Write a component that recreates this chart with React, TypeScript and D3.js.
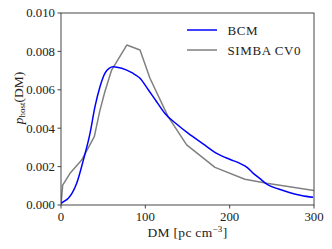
import React from "react";
import * as d3 from "d3";

const bcmDM = [0, 4, 8.7, 13, 18.6, 26.5, 34.4, 40.3, 46.2, 52, 57, 62, 72, 84, 93.7, 103.5, 113.4, 123, 137, 151, 168, 184.6, 200, 212, 221, 228, 236, 244, 258, 271.6, 285, 299];
const bcmP = [0.00009, 0.0002, 0.00035, 0.0006, 0.00113, 0.00234, 0.00373, 0.00512, 0.00616, 0.00686, 0.00712, 0.0072, 0.00712, 0.00689, 0.0066, 0.006, 0.00538, 0.00478, 0.00422, 0.00373, 0.0032, 0.00269, 0.00238, 0.00217, 0.00195, 0.00165, 0.00137, 0.00109, 0.00083, 0.00064, 0.0005, 0.0004];

const simDM = [0, 2, 10.7, 24.5, 39.5, 46, 52, 60, 78, 93.7, 105.5, 127, 149, 182.6, 218, 244, 300];
const simP = [0.0, 0.00104, 0.00165, 0.00234, 0.00356, 0.0049, 0.0059, 0.00703, 0.00833, 0.00807, 0.0066, 0.0046, 0.00313, 0.00196, 0.00134, 0.00113, 0.00075];

const xTicks = [0, 100, 200, 300];
const yTicks = [0, 0.002, 0.004, 0.006, 0.008, 0.01];

const seriesNames = ["BCM", "SIMBA CV0"];
const seriesColors = ["#0000ff", "#808080"];

export default function App() {
  const W = 332, H = 249;
  const L = 61, R = 314, T = 13, B = 205;
  const x = d3.scaleLinear().domain([0, 300]).range([L, R]);
  const y = d3.scaleLinear().domain([0, 0.01]).range([B, T]);
  const font = "'Liberation Serif', 'Times New Roman', serif";
  const axisColor = "#333";

  const bcmLine = d3.line<number>().x((_, i) => x(bcmDM[i])).y((d) => y(d)).curve(d3.curveMonotoneX)(bcmP) || "";
  const simLine = d3.line<number>().x((_, i) => x(simDM[i])).y((d) => y(d)).curve(d3.curveLinear)(simP) || "";

  return (
    <svg width={W} height={H} style={{ position: "absolute", left: 0, top: 0, background: "#fff" }}>
      <defs>
        <clipPath id="clip">
          <rect x={L} y={T} width={R - L} height={B - T} />
        </clipPath>
      </defs>
      <g clipPath="url(#clip)">
        <path d={simLine} fill="none" stroke={seriesColors[1]} strokeWidth={1.5} strokeLinejoin="round" />
        <path d={bcmLine} fill="none" stroke={seriesColors[0]} strokeWidth={1.5} strokeLinejoin="round" />
      </g>
      <rect x={L} y={T} width={R - L} height={B - T} fill="none" stroke={axisColor} strokeWidth={0.9} />
      {xTicks.map((t) => (
        <g key={"x" + t}>
          <line x1={x(t)} x2={x(t)} y1={B} y2={B + 3.5} stroke={axisColor} strokeWidth={0.9} />
          <text x={x(t)} y={221} textAnchor="middle" fontFamily={font} fontSize={12.8} fill="#222">{t}</text>
        </g>
      ))}
      {yTicks.map((t) => (
        <g key={"y" + t}>
          <line x1={L - 3.5} x2={L} y1={y(t)} y2={y(t)} stroke={axisColor} strokeWidth={0.9} />
          <text x={L - 6} y={y(t) + 4.3} textAnchor="end" fontFamily={font} fontSize={12.8} fill="#222">{t.toFixed(3)}</text>
        </g>
      ))}
      <text x={(L + R) / 2} y={237.3} textAnchor="middle" fontFamily={font} fontSize={13.5} letterSpacing={0.3} fill="#222">
        DM [pc cm<tspan dy={-5} fontSize={9}>−3</tspan><tspan dy={5}>]</tspan>
      </text>
      <text transform={`translate(22.5,98) rotate(-90)`} textAnchor="middle" fontFamily={font} fontSize={13.5} fill="#222">
        <tspan fontStyle="italic">p</tspan><tspan dy={2.5} fontSize={9}>host</tspan><tspan dy={-2.5}>(DM)</tspan>
      </text>
      {seriesNames.map((n, i) => (
        <g key={n}>
          <line x1={187} x2={217} y1={30 + i * 20} y2={30 + i * 20} stroke={seriesColors[i]} strokeWidth={1.5} />
          <text x={227.5} y={35 + i * 20} fontFamily={font} fontSize={13} letterSpacing={0.6} fill="#222">{n}</text>
        </g>
      ))}
    </svg>
  );
}
